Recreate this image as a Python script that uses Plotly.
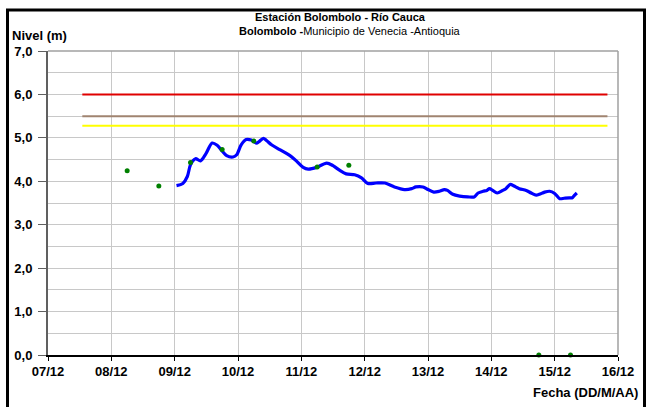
import datetime as dt
import plotly.graph_objects as go

# ---------------- data ----------------
base = dt.datetime(2011, 12, 7)

# continuous level series (hours since 07/12 00:00, level in m)
line_hours = [48.7, 51.1, 52.8, 54.0, 55.9, 57.8, 59.8, 62.2, 64.1, 65.8, 67.7, 70.1,
              71.5, 73.2, 75.1, 77.0, 79.0, 79.9, 81.6, 82.8, 84.7, 87.8, 91.7, 94.1,
              96.7, 98.6, 101.8, 105.6, 108.0, 110.6, 113.0, 116.2, 118.8, 121.2, 124.3,
              127.7, 131.3, 135.1, 137.8, 139.4, 142.1, 144.0, 146.2, 148.3, 150.2, 151.4,
              153.4, 156.0, 159.1, 161.5, 163.0, 164.9, 166.3, 167.3, 168.5, 170.2, 172.3,
              173.5, 175.2, 176.6, 178.6, 181.2, 183.1, 185.0, 186.2, 188.2, 190.1, 192.0,
              193.9, 195.6, 197.5, 198.7, 199.4, 200.4]
line_levels = [3.90, 3.95, 4.11, 4.38, 4.52, 4.47, 4.63, 4.88, 4.83, 4.71, 4.59, 4.56,
               4.61, 4.84, 4.96, 4.95, 4.88, 4.91, 4.99, 4.94, 4.84, 4.73, 4.59, 4.47,
               4.32, 4.28, 4.32, 4.42, 4.36, 4.25, 4.17, 4.15, 4.08, 3.95, 3.96,
               3.96, 3.87, 3.81, 3.83, 3.87, 3.87, 3.81, 3.75, 3.77, 3.81, 3.79,
               3.70, 3.66, 3.64, 3.64, 3.73, 3.77, 3.79, 3.83, 3.79, 3.73, 3.79,
               3.83, 3.93, 3.89, 3.83, 3.79, 3.73, 3.68, 3.70, 3.75, 3.77, 3.72,
               3.60, 3.61, 3.62, 3.62, 3.67, 3.73]

# manual readings (green dots)
dot_hours = [30, 42, 54, 66, 78, 102, 114, 186, 198]
dot_levels = [4.24, 3.89, 4.43, 4.73, 4.93, 4.33, 4.37, 0.0, 0.0]

# alert thresholds
threshold_levels = [6.0, 5.5, 5.28]
threshold_colors = ["#E00000", "#A08470", "#FFFF00"]
threshold_hours = [13, 212]

# ---------------- figure ----------------
def to_dt(hours):
    return [base + dt.timedelta(hours=h) for h in hours]

fig = go.Figure()

for lvl, col in zip(threshold_levels, threshold_colors):
    fig.add_trace(go.Scatter(x=to_dt(threshold_hours), y=[lvl, lvl], mode="lines",
                             line=dict(color=col, width=2), showlegend=False,
                             hoverinfo="skip"))

fig.add_trace(go.Scatter(x=to_dt(line_hours), y=line_levels, mode="lines",
                         line=dict(color="#0000FF", width=3.2, shape="spline", smoothing=0.8),
                         showlegend=False))

fig.add_trace(go.Scatter(x=to_dt(dot_hours), y=dot_levels, mode="markers",
                         marker=dict(color="#008000", size=5), showlegend=False,
                         cliponaxis=False))

L, R, T, B = 48, 29, 51, 52
W, H = 647, 407
pw, ph = W - L - R, H - T - B

def px(x):
    return (x - L) / pw

def py(y):
    return (H - B - y) / ph

font_family = "Liberation Sans, Arial, sans-serif"

fig.update_layout(
    width=W, height=H,
    margin=dict(l=L, r=R, t=T, b=B),
    paper_bgcolor="white", plot_bgcolor="white",
    separators=",.",
    font=dict(family=font_family, size=13, color="black"),
    xaxis=dict(
        type="date",
        range=[base, base + dt.timedelta(days=9)],
        dtick=86400000, tick0=base, tickformat="%d/%m",
        showgrid=True, gridcolor="#C8C8C8", gridwidth=1,
        showline=True, linecolor="black", linewidth=1.5,
        ticks="outside", ticklen=4, tickcolor="black",
        tickfont=dict(family=font_family, size=13, weight=700),
        zeroline=False, fixedrange=True,
    ),
    yaxis=dict(
        range=[0, 7], dtick=1, tickformat=".1f",
        showgrid=True, gridcolor="#C8C8C8", gridwidth=1,
        minor=dict(dtick=0.5, showgrid=True, gridcolor="#C8C8C8", gridwidth=1),
        showline=True, linecolor="#606060", linewidth=2,
        ticks="outside", ticklen=8, tickcolor="#606060",
        ticklabelstandoff=3,
        tickfont=dict(family=font_family, size=13, weight=700),
        zeroline=False, fixedrange=True,
    ),
    shapes=[
        dict(type="line", xref="paper", yref="paper", x0=0, x1=1, y0=1, y1=1,
             line=dict(color="#A0A0A0", width=1.5)),
        dict(type="line", xref="paper", yref="paper", x0=1, x1=1, y0=0, y1=1,
             line=dict(color="#A0A0A0", width=1.5)),
        dict(type="rect", xref="paper", yref="paper",
             x0=px(7.5), x1=px(644.5), y0=py(410), y1=py(10),
             line=dict(color="black", width=3), fillcolor="rgba(0,0,0,0)", layer="above"),
    ],
    annotations=[
        dict(text="<b>Estación Bolombolo - Río Cauca</b>", xref="paper", yref="paper",
             x=px(340), y=py(17), xanchor="center", yanchor="middle", showarrow=False,
             font=dict(size=11)),
        dict(text="<b>Bolombolo -</b>Municipio de Venecia -Antioquia", xref="paper", yref="paper",
             x=px(350), y=py(31), xanchor="center", yanchor="middle", showarrow=False,
             font=dict(size=11)),
        dict(text="<b>Nivel (m)</b>", xref="paper", yref="paper",
             x=px(10), y=py(35), xanchor="left", yanchor="middle", showarrow=False,
             font=dict(size=13)),
        dict(text="<b>Fecha (DD/M/AA)</b>", xref="paper", yref="paper",
             x=px(640), y=py(392), xanchor="right", yanchor="middle", showarrow=False,
             font=dict(size=13)),
    ],
)

fig.write_html(
    "out.html",
    config={"displayModeBar": False},
    post_script="document.body.style.margin='0';document.body.style.overflow='hidden';",
)
